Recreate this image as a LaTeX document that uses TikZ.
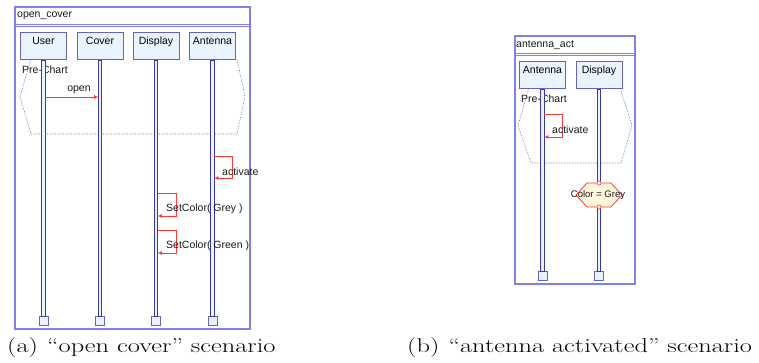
\documentclass[tikz,border=0pt]{standalone}
\usepackage{fontspec}
\setmainfont{Latin Modern Roman}
\newfontfamily\diagfont{Liberation Sans}
\usetikzlibrary{arrows.meta}
\definecolor{framec}{HTML}{8080F0}
\definecolor{lifec}{HTML}{3838A8}
\definecolor{headfill}{HTML}{EAF4FF}
\definecolor{headdraw}{HTML}{6464C0}
\definecolor{msgc}{HTML}{FF3838}
\definecolor{condfill}{HTML}{FFF6DC}
\tikzset{
  frm/.style={draw=framec, line width=1.1pt},
  headbox/.style={draw=headdraw, fill=headfill, line width=0.9pt, minimum width=46pt, minimum height=27pt, inner sep=0pt, anchor=north, text depth=0pt, font=\diagfont\fontsize{10.5}{12}\selectfont},
  endbox/.style={draw=headdraw, fill=headfill, line width=0.9pt, minimum width=9pt, minimum height=9pt, inner sep=0pt},
  lifeln/.style={draw=lifec, line width=0.8pt, fill=headfill},
  msg/.style={draw=msgc, line width=0.8pt, -{Latex[length=4pt,width=4pt]}},
  lbl/.style={font=\diagfont\fontsize{10.5}{12}\selectfont, inner sep=0pt, text=black!90},
  prechart/.style={draw=headdraw, densely dotted, line width=0.6pt},
  captext/.style={font=\fontsize{20}{24}\selectfont, inner sep=0pt, anchor=base west}
}
\begin{document}
\begin{tikzpicture}[x=1pt,y=-1pt]
\useasboundingbox (0,0) rectangle (759,362);
% ===== left diagram =====
\draw[frm, fill=white] (15,7) rectangle (250,329);
\draw[draw=framec, line width=0.9pt] (15,24) -- (250,24) (15,26.5) -- (250,26.5);
\node[lbl, anchor=west] (t1) at (17,16) {open\_cover};
% pre-chart
\draw[prechart] (31,59) -- (20,96.5) -- (31,134) -- (237,134) -- (245,96.5) -- (237,59);
\node[headbox] (user) at (43.5,32) {\raisebox{10pt}{User}};
\node[headbox] (cover) at (100,32) {\raisebox{10pt}{Cover}};
\node[headbox] (disp) at (156,32) {\raisebox{10pt}{Display}};
\node[headbox] (ant) at (212.5,32) {\raisebox{10pt}{Antenna}};
\node[lbl, anchor=west] (pc1) at (22,70) {Pre-Chart};
\foreach \n/\x in {ue/43.5, ce/100, de/156, ae/212.5} {
  \node[endbox] (\n) at (\x,321) {};
}
\draw[lifeln] ([xshift=-1.8pt]user.south) rectangle ([xshift=1.8pt]ue.north);
\draw[lifeln] ([xshift=-1.8pt]cover.south) rectangle ([xshift=1.8pt]ce.north);
\draw[lifeln] ([xshift=-1.8pt]disp.south) rectangle ([xshift=1.8pt]de.north);
\draw[lifeln] ([xshift=-1.8pt]ant.south) rectangle ([xshift=1.8pt]ae.north);
% messages
\coordinate (o1) at (45.3,97);
\coordinate (o2) at (98.2,97);
\draw[msg] (o1) -- (o2);
\node[lbl] (lopen) at (79,90) {open};
\coordinate (a1) at (214.3,156);
\coordinate (a2) at (214.3,178);
\draw[msg] (a1) -- (232,156) -- (232,178) -- (a2);
\node[lbl, anchor=west] (lact) at (222,172) {activate};
\coordinate (g1) at (157.8,193);
\coordinate (g2) at (157.8,216);
\draw[msg] (g1) -- (176,193) -- (176,216) -- (g2);
\node[lbl, anchor=west] (lgrey) at (166,209) {SetColor( Grey )};
\coordinate (h1) at (157.8,230);
\coordinate (h2) at (157.8,253);
\draw[msg] (h1) -- (176,230) -- (176,253) -- (h2);
\node[lbl, anchor=west] (lgreen) at (166,246) {SetColor( Green )};
% ===== right diagram =====
\draw[frm, fill=white] (515,36) rectangle (635,284);
\draw[draw=framec, line width=0.9pt] (515,53) -- (635,53) (515,55.5) -- (635,55.5);
\node[lbl, anchor=west] (t2) at (516,45) {antenna\_act};
\draw[prechart] (529,88) -- (518,125.5) -- (531,163) -- (621,163) -- (632,125.5) -- (620,88);
\node[headbox] (ant2) at (542.5,61) {\raisebox{10pt}{Antenna}};
\node[headbox] (disp2) at (599,61) {\raisebox{10pt}{Display}};
\node[lbl, anchor=west] (pc2) at (521,99) {Pre-Chart};
\node[endbox] (ae2) at (542.5,276) {};
\node[endbox] (de2) at (599,276) {};
\draw[lifeln] ([xshift=-1.8pt]ant2.south) rectangle ([xshift=1.8pt]ae2.north);
\draw[lifeln] ([xshift=-1.8pt]disp2.south) rectangle ([xshift=1.8pt]de2.north);
\coordinate (b1) at (544.3,114);
\coordinate (b2) at (544.3,137);
\draw[msg] (b1) -- (562,114) -- (562,137) -- (b2);
\node[lbl, anchor=west] (lact2) at (552,130) {activate};
% condition
\draw[draw=msgc, line width=0.8pt, fill=condfill] (576,195) -- (587,183) -- (611,183) -- (622,195) -- (611,207) -- (587,207) -- cycle;
\node[lbl, font=\diagfont\fontsize{9.5}{11}\selectfont] (cond) at (598,195) {Color = Grey};
\draw[draw=msgc, fill=white, line width=0.6pt] (599,183) circle (2pt) (599,207) circle (2pt);
% ===== captions =====
\node[captext] (capa) at (7,352) {\scalebox{1.32}[1]{(a)\hspace{0.35em}“open cover” scenario}};
\node[captext] (capb) at (407,352) {\scalebox{1.32}[1]{(b)\hspace{0.35em}“antenna activated” scenario}};
\end{tikzpicture}
\end{document}
